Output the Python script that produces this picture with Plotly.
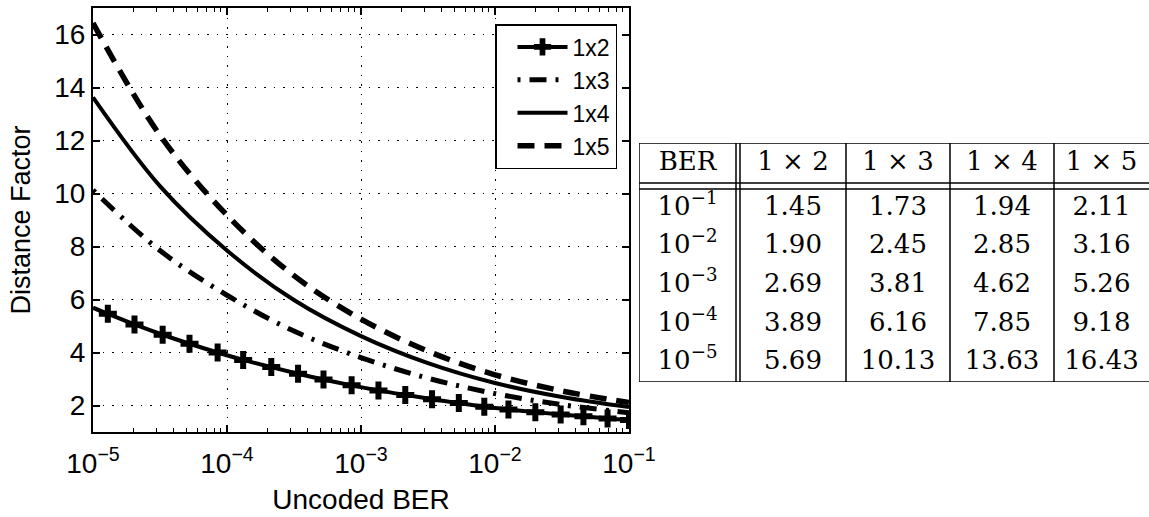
import plotly.graph_objects as go

# ---------------- data ----------------
ber_1x2 = [1.0e-5, 1.29e-5, 2.04e-5, 3.31e-5, 5.25e-5, 8.51e-5, 1.32e-4, 2.14e-4,
           3.39e-4, 5.25e-4, 8.51e-4, 1.35e-3, 2.14e-3, 3.39e-3, 5.37e-3, 8.32e-3,
           1.26e-2, 2.00e-2, 3.09e-2, 4.57e-2, 6.92e-2, 1.0e-1]
df_1x2 = [5.69, 5.46, 5.06, 4.67, 4.33, 4.00, 3.72, 3.45, 3.20, 2.98, 2.76,
          2.57, 2.40, 2.24, 2.09, 1.95, 1.85, 1.75, 1.66, 1.59, 1.51, 1.45]

ber_grid = [1e-5, 3.16e-5, 1e-4, 3.16e-4, 1e-3, 3.16e-3, 1e-2, 3.16e-2, 1e-1]
df_1x3 = [10.13, 7.85, 6.16, 4.81, 3.81, 3.03, 2.45, 2.03, 1.73]
df_1x4 = [13.63, 10.28, 7.85, 5.98, 4.62, 3.60, 2.85, 2.32, 1.94]
df_1x5 = [16.43, 12.20, 9.18, 6.90, 5.26, 4.05, 3.16, 2.55, 2.11]

series_names = ["1x2", "1x3", "1x4", "1x5"]

x_tickvals = [1e-5, 1e-4, 1e-3, 1e-2, 1e-1]
x_ticktext = ["10<sup>−5</sup>", "10<sup>−4</sup>", "10<sup>−3</sup>",
              "10<sup>−2</sup>", "10<sup>−1</sup>"]
y_tickvals = [2, 4, 6, 8, 10, 12, 14, 16]

table_header = ["BER", "1 × 2", "1 × 3", "1 × 4", "1 × 5"]
table_ber = ["10<sup>−1</sup>", "10<sup>−2</sup>", "10<sup>−3</sup>",
             "10<sup>−4</sup>", "10<sup>−5</sup>"]
table_1x2 = [1.45, 1.90, 2.69, 3.89, 5.69]
table_1x3 = [1.73, 2.45, 3.81, 6.16, 10.13]
table_1x4 = [1.94, 2.85, 4.62, 7.85, 13.63]
table_1x5 = [2.11, 3.16, 5.26, 9.18, 16.43]

# ---------------- layout geometry (pixels) ----------------
W, H = 1149, 517
ML, MR, MT, MB = 93, 0, 8, 85
PW, PH = W - ML - MR, H - MT - MB


def fx(px):
    return (px - ML) / PW


def fy(py):
    return (H - MB - py) / PH


SANS = "Liberation Sans, Arial, sans-serif"
SERIF = "DejaVu Serif, serif"

# log minor tick positions (2..9 within each decade)
minor_vals = [m * d for d in x_tickvals[:-1] for m in range(2, 10)]

fig = go.Figure()

marker_sizes = [0] + [15] * (len(ber_1x2) - 1)
fig.add_trace(go.Scatter(
    x=ber_1x2, y=df_1x2, name=series_names[0], mode="lines+markers",
    line=dict(color="black", width=4, shape="spline"),
    marker=dict(symbol="cross", size=marker_sizes, color="black", opacity=1,
                line=dict(width=0)),
))
fig.add_trace(go.Scatter(
    x=ber_grid, y=df_1x3, name=series_names[1], mode="lines",
    line=dict(color="black", width=5, shape="spline", dash="3px,9px,17px,9px"),
))
fig.add_trace(go.Scatter(
    x=ber_grid, y=df_1x4, name=series_names[2], mode="lines",
    line=dict(color="black", width=4, shape="spline"),
))
fig.add_trace(go.Scatter(
    x=ber_grid, y=df_1x5, name=series_names[3], mode="lines",
    line=dict(color="black", width=5.5, shape="spline", dash="17px,10px"),
))

# ---------------- table (drawn on its own hidden axes, units = pixels) ----------------
TX0, TX1, TY0, TY1 = 639, 1149, 143, 382          # table box on the page
col_widths = [97, 4, 106, 104, 104, 95]            # BER | gap(double rule) | 1x2 | 1x3 | 1x4 | 1x5
header_h, rule_gap, row_h = 40, 6, 38.6

col_edges = [0]
for w_ in col_widths:
    col_edges.append(col_edges[-1] + w_)
text_cols = [0, 2, 3, 4, 5]
col_centers = [(col_edges[i] + col_edges[i + 1]) / 2 for i in text_cols]
header_y = header_h / 2
row_y = [header_h + rule_gap + row_h * (i + 0.5) for i in range(len(table_ber))]

tfont = dict(family=SERIF, size=26, color="black")
fig.add_trace(go.Scatter(
    x=col_centers, y=[header_y] * len(table_header), text=table_header,
    mode="text", textposition="middle center", textfont=tfont,
    xaxis="x2", yaxis="y2", showlegend=False, hoverinfo="skip",
))
table_cols = [table_ber,
              ["%.2f" % v for v in table_1x2],
              ["%.2f" % v for v in table_1x3],
              ["%.2f" % v for v in table_1x4],
              ["%.2f" % v for v in table_1x5]]
for cx, col in zip(col_centers, table_cols):
    fig.add_trace(go.Scatter(
        x=[cx] * len(col), y=row_y, text=col,
        mode="text", textposition="middle center", textfont=tfont,
        xaxis="x2", yaxis="y2", showlegend=False, hoverinfo="skip",
    ))

shapes = []
LINE = dict(color="black", width=1.5)
t_bottom = TY1 - TY0
for yy in [0, header_h, header_h + rule_gap, t_bottom]:
    shapes.append(dict(type="line", xref="x2", yref="y2",
                       x0=0, x1=TX1 - TX0, y0=yy, y1=yy, line=LINE))
for xx in col_edges[:-1]:
    shapes.append(dict(type="line", xref="x2", yref="y2",
                       x0=xx, x1=xx, y0=0, y1=t_bottom, line=LINE))

fig.update_layout(
    width=W, height=H,
    margin=dict(l=ML, r=MR, t=MT, b=MB, autoexpand=False),
    paper_bgcolor="white", plot_bgcolor="white",
    font=dict(family=SANS, size=26, color="black"),
    showlegend=True,
    legend=dict(x=fx(617), y=fy(24), xanchor="right", yanchor="top",
                bgcolor="white", bordercolor="black", borderwidth=1.5,
                font=dict(family=SANS, size=23, color="black"),
                tracegroupgap=0, itemwidth=50, indentation=16),
    shapes=shapes,
    xaxis=dict(
        type="log", range=[-5, -1], domain=[0, fx(629)], anchor="y",
        tickvals=x_tickvals, ticktext=x_ticktext,
        ticks="inside", ticklen=7, tickwidth=1.5, tickcolor="black",
        showline=True, linecolor="black", linewidth=2, mirror="ticks",
        showgrid=True, gridcolor="black", gridwidth=1.2, griddash="1.5px,8px",
        minor=dict(tickmode="array", tickvals=minor_vals, ticks="inside",
                   ticklen=4, tickwidth=1.2, tickcolor="black", showgrid=False),
        title=dict(text="Uncoded BER", font=dict(family=SANS, size=28), standoff=12),
        tickfont=dict(family=SANS, size=28), ticklabelstandoff=5,
        zeroline=False, automargin=False,
    ),
    yaxis=dict(
        range=[1, 17], tickvals=y_tickvals, anchor="x",
        ticks="inside", ticklen=7, tickwidth=1.5, tickcolor="black",
        showline=True, linecolor="black", linewidth=2, mirror="ticks",
        showgrid=True, gridcolor="black", gridwidth=1.2, griddash="1.5px,8px",
        title=dict(text="Distance Factor", font=dict(family=SANS, size=27), standoff=16),
        tickfont=dict(family=SANS, size=28),
        zeroline=False, automargin=False,
    ),
    xaxis2=dict(domain=[fx(TX0), fx(TX1)], range=[0, TX1 - TX0], anchor="y2",
                visible=False, fixedrange=True, automargin=False),
    yaxis2=dict(domain=[fy(TY1), fy(TY0)], range=[TY1 - TY0, 0], anchor="x2",
                visible=False, fixedrange=True, automargin=False),
)

fig.write_html("out.html")
